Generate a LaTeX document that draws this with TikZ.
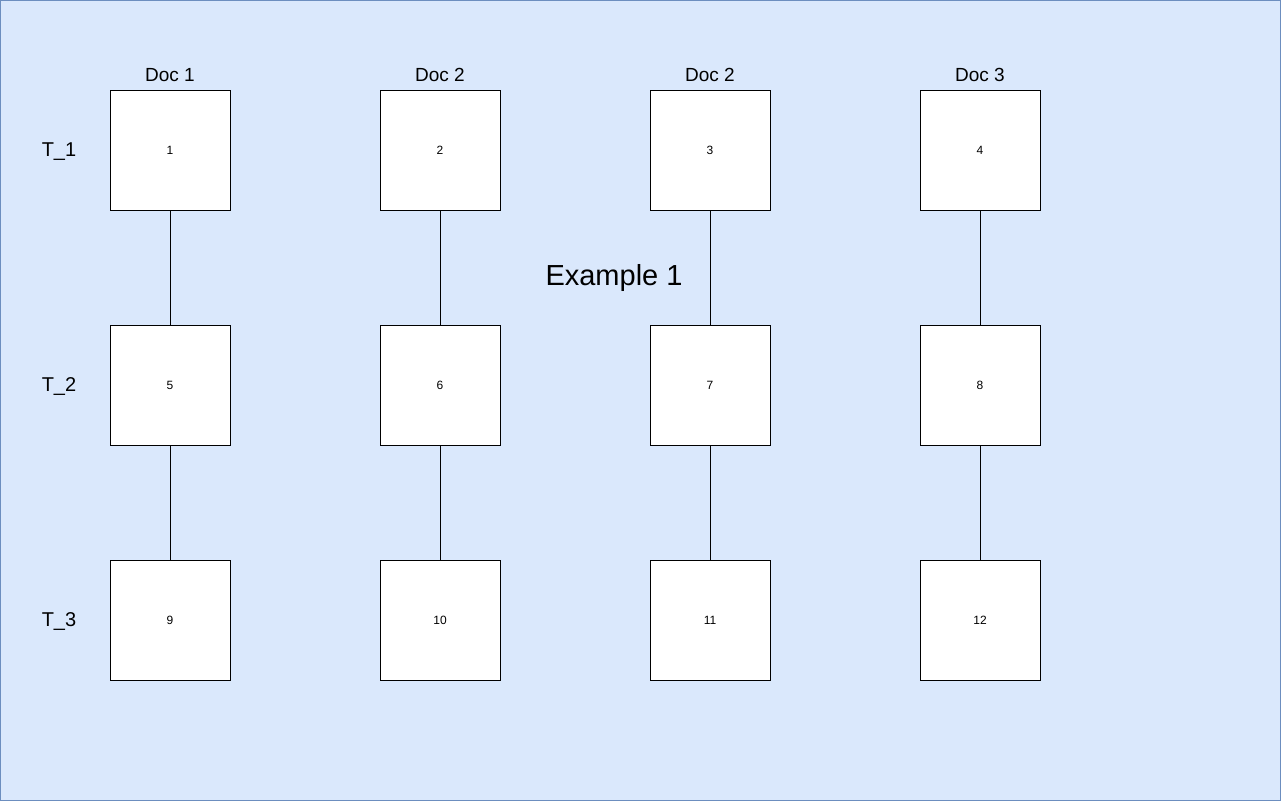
\documentclass[tikz,border=0pt]{standalone}
\usepackage{fontspec}
\setmainfont{Liberation Sans}
\usepackage{tikz}
\usetikzlibrary{positioning}
\definecolor{bgfill}{HTML}{DAE8FC}
\definecolor{bgline}{HTML}{6C8EBF}

\begin{document}
\begin{tikzpicture}[x=1pt,y=-1pt,
            cell/.style={draw,rectangle,fill=white,line width=1pt,minimum width=120pt,minimum height=120pt,inner sep=0pt,font=\fontsize{12}{14}\selectfont,node distance=235pt},
            doclab/.style={font=\fontsize{19}{23}\selectfont,inner sep=0pt,node distance=75pt},
            tlab/.style={font=\fontsize{20}{24}\selectfont,inner sep=0pt,text depth=0pt,node distance=111pt},
            title/.style={font=\fontsize{29}{35}\selectfont,inner sep=0pt,text depth=0pt},
            every edge/.style={draw,line width=1pt}
          ]
          \useasboundingbox (0,0) rectangle (1281,801);
          \draw[fill=bgfill,draw=bgline,line width=1pt] (0.5,0.5) rectangle (1280.5,800.5);

          %first row
          \node[cell] (1) at (170,150) {1};
          \node[cell] (2) at (440,150) {2};
          \node[cell] (3) at (710,150) {3};
          \node[cell] (4) at (980,150) {4};

          %second row
          \node[below of = 1,cell] (5) {5};
          \node[below of = 2,cell] (6) {6};
          \node[below of = 3,cell] (7) {7};
          \node[below of = 4,cell] (8) {8};

          %third row
          \node[below of = 5,cell] (9) {9};
          \node[below of = 6,cell] (10) {10};
          \node[below of = 7,cell] (11) {11};
          \node[below of = 8,cell] (12) {12};

          %labels
          \node[above of = 1,doclab] {Doc 1};
          \node[above of = 2,doclab] {Doc 2};
          \node[above of = 3,doclab] {Doc 2};
          \node[above of = 4,doclab] {Doc 3};

          \node[left of = 1,tlab] {T\_1};
          \node[left of = 5,tlab] {T\_2};
          \node[left of = 9,tlab] {T\_3};

          \node[title] (ex) at (614,275) {Example 1};

          \path
          (1) edge (5)
          (5) edge (9)
          (2) edge (6)
          (6) edge (10)
          (3) edge (7)
          (7) edge (11)
          (4) edge (8)
          (8) edge (12)
          ;

\end{tikzpicture}
\end{document}
